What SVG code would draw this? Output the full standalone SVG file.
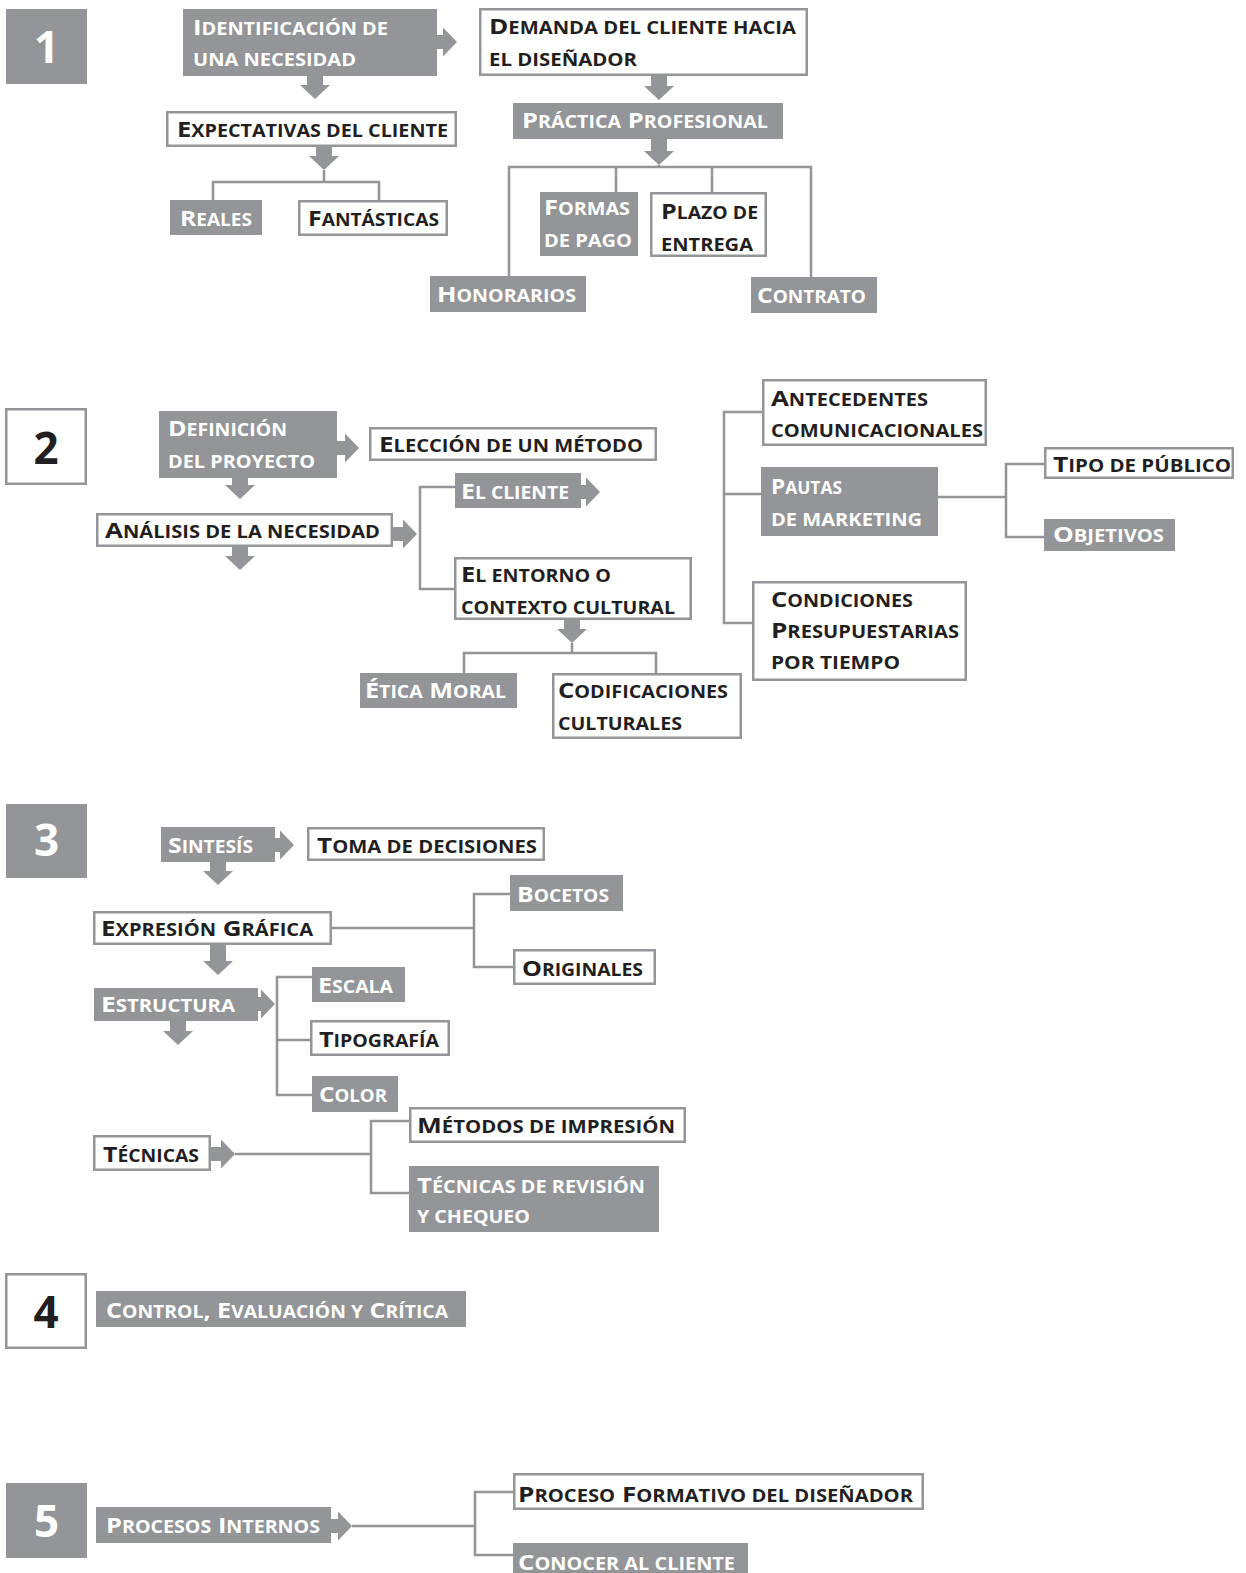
<svg xmlns="http://www.w3.org/2000/svg" width="1246" height="1573" viewBox="0 0 1246 1573">
<style>
.g{fill:#939598}
.w{fill:#fff;stroke:#939598;stroke-width:2.5}
text{font-family:"Open Sans","Liberation Sans",sans-serif;font-weight:700;font-size:22px}
.s{font-size:17px}
.tw{fill:#fff}
.tb{fill:#231f20}
.num{font-size:44px;text-anchor:middle}
.c{fill:none;stroke:#939598;stroke-width:2.5}
.a{fill:#939598}
</style>
<rect width="1246" height="1573" fill="#fff"/>
<g id="connectors">
<path class="c" d="M324,170V182M213,200V182H379V200"/>
<path class="c" d="M659,165V167M509,276V167H811V277M616,192V167M712,192V167"/>
<path class="c" d="M455,487H420V589H454"/>
<path class="c" d="M572,643V653M464,673V653H656V673"/>
<path class="c" d="M762,412H724V623H752M724,494H761"/>
<path class="c" d="M938,497H1006M1044,464H1006V537H1044"/>
<path class="c" d="M332,928H474M510,894H474V967H513"/>
<path class="c" d="M312,977H277V1095H312M277,1040H310"/>
<path class="c" d="M235,1154H371M409,1121H371V1193H409"/>
<path class="c" d="M352,1526H475M513,1492H475V1555H513"/>
<path class="a" d="M307,76V85H300L315,99L330,85H323V76Z"/>
<path class="a" d="M316,147V156H309L324,170L339,156H332V147Z"/>
<path class="a" d="M651,76V86H644L659,100L674,86H667V76Z"/>
<path class="a" d="M651,139V151H644L659,165L674,151H667V139Z"/>
<path class="a" d="M232,478V485H225L240,499L255,485H248V478Z"/>
<path class="a" d="M232,547V556H225L240,570L255,556H248V547Z"/>
<path class="a" d="M564,620V629H557L572,643L587,629H580V620Z"/>
<path class="a" d="M210,862V871H203L218,885L233,871H226V862Z"/>
<path class="a" d="M210,945V961H203L218,975L233,961H226V945Z"/>
<path class="a" d="M170,1021V1031H163L178,1045L193,1031H186V1021Z"/>
<path class="a" d="M437,35H443V27.5L457,42L443,56.5V49H437Z"/>
<path class="a" d="M337,441H345V433.5L359,448L345,462.5V455H337Z"/>
<path class="a" d="M393,527H403V519.5L417,534L403,548.5V541H393Z"/>
<path class="a" d="M581,485H586V477.5L600,492L586,506.5V499H581Z"/>
<path class="a" d="M275,838H280V830.5L294,845L280,859.5V852H275Z"/>
<path class="a" d="M258,997H261V989.5L275,1004L261,1018.5V1011H258Z"/>
<path class="a" d="M211,1147H221V1139.5L235,1154L221,1168.5V1161H211Z"/>
<path class="a" d="M331,1519H338V1511.5L352,1526L338,1540.5V1533H331Z"/>
</g>
<g id="s1"><rect class="g" x="6" y="9" width="81" height="75"/><text class="num tw" x="46.5" y="63">1</text></g>
<g id="s2"><rect class="w" x="6.25" y="409.25" width="79.5" height="74.5"/><text class="num tb" x="46" y="464">2</text></g>
<g id="s3"><rect class="g" x="6" y="804" width="81" height="74"/><text class="num tw" x="46.5" y="856">3</text></g>
<g id="s4"><rect class="w" x="6.25" y="1274.25" width="79.5" height="73.5"/><text class="num tb" x="46" y="1328">4</text></g>
<g id="s5"><rect class="g" x="6" y="1483" width="81" height="75"/><text class="num tw" x="46.5" y="1537">5</text></g>

<g id="n-ident"><rect class="g" x="183" y="9" width="254" height="67"/><text class="tw" x="193" y="35" textLength="195" lengthAdjust="spacingAndGlyphs">I<tspan class="s">DENTIFICACIÓN DE</tspan></text><text class="tw s" x="193" y="66" textLength="163" lengthAdjust="spacingAndGlyphs">UNA NECESIDAD</text></g>
<g id="n-expect"><rect class="w" x="167.25" y="112.25" width="288.5" height="33.5"/><text class="tb" x="177" y="137" textLength="271" lengthAdjust="spacingAndGlyphs">E<tspan class="s">XPECTATIVAS DEL CLIENTE</tspan></text></g>
<g id="n-reales"><rect class="g" x="170" y="200" width="92" height="35"/><text class="tw" x="180" y="226" textLength="72" lengthAdjust="spacingAndGlyphs">R<tspan class="s">EALES</tspan></text></g>
<g id="n-fant"><rect class="w" x="299.25" y="201.25" width="147.5" height="33.5"/><text class="tb" x="308" y="226" textLength="131" lengthAdjust="spacingAndGlyphs">F<tspan class="s">ANTÁSTICAS</tspan></text></g>
<g id="n-demanda"><rect class="w" x="480.25" y="9.25" width="326.5" height="65.5"/><text class="tb" x="489" y="34" textLength="307" lengthAdjust="spacingAndGlyphs">D<tspan class="s">EMANDA DEL CLIENTE HACIA</tspan></text><text class="tb s" x="489" y="66" textLength="148" lengthAdjust="spacingAndGlyphs">EL DISEÑADOR</text></g>
<g id="n-practica"><rect class="g" x="513" y="103" width="270" height="36"/><text class="tw" x="522" y="128" textLength="246" lengthAdjust="spacingAndGlyphs">P<tspan class="s">RÁCTICA</tspan> P<tspan class="s">ROFESIONAL</tspan></text></g>
<g id="n-formas"><rect class="g" x="540" y="192" width="98" height="64"/><text class="tw" x="544" y="215" textLength="86" lengthAdjust="spacingAndGlyphs">F<tspan class="s">ORMAS</tspan></text><text class="tw s" x="544" y="247" textLength="88" lengthAdjust="spacingAndGlyphs">DE PAGO</text></g>
<g id="n-plazo"><rect class="w" x="651.25" y="193.25" width="114.5" height="62.5"/><text class="tb" x="661" y="219" textLength="97" lengthAdjust="spacingAndGlyphs">P<tspan class="s">LAZO DE</tspan></text><text class="tb s" x="661" y="251" textLength="92" lengthAdjust="spacingAndGlyphs">ENTREGA</text></g>
<g id="n-honor"><rect class="g" x="430" y="276" width="156" height="36"/><text class="tw" x="437" y="302" textLength="139" lengthAdjust="spacingAndGlyphs">H<tspan class="s">ONORARIOS</tspan></text></g>
<g id="n-contrato"><rect class="g" x="751" y="277" width="126" height="36"/><text class="tw" x="757" y="303" textLength="109" lengthAdjust="spacingAndGlyphs">C<tspan class="s">ONTRATO</tspan></text></g>

<g id="n-defin"><rect class="g" x="159" y="411" width="178" height="67"/><text class="tw" x="168" y="436" textLength="119" lengthAdjust="spacingAndGlyphs">D<tspan class="s">EFINICIÓN</tspan></text><text class="tw s" x="168" y="468" textLength="147" lengthAdjust="spacingAndGlyphs">DEL PROYECTO</text></g>
<g id="n-eleccion"><rect class="w" x="370.25" y="428.25" width="285.5" height="31.5"/><text class="tb" x="379" y="452" textLength="264" lengthAdjust="spacingAndGlyphs">E<tspan class="s">LECCIÓN DE UN MÉTODO</tspan></text></g>
<g id="n-analisis"><rect class="w" x="97.25" y="514.25" width="294.5" height="31.5"/><text class="tb" x="105" y="538" textLength="275" lengthAdjust="spacingAndGlyphs">A<tspan class="s">NÁLISIS DE LA NECESIDAD</tspan></text></g>
<g id="n-cliente"><rect class="g" x="455" y="473" width="126" height="35"/><text class="tw" x="461" y="499" textLength="108" lengthAdjust="spacingAndGlyphs">E<tspan class="s">L CLIENTE</tspan></text></g>
<g id="n-entorno"><rect class="w" x="455.25" y="558.25" width="235.5" height="60.5"/><text class="tb" x="461" y="582" textLength="150" lengthAdjust="spacingAndGlyphs">E<tspan class="s">L ENTORNO O</tspan></text><text class="tb s" x="461" y="614" textLength="214" lengthAdjust="spacingAndGlyphs">CONTEXTO CULTURAL</text></g>
<g id="n-etica"><rect class="g" x="360" y="673" width="157" height="35"/><text class="tw" x="365" y="698" textLength="141" lengthAdjust="spacingAndGlyphs">É<tspan class="s">TICA</tspan> M<tspan class="s">ORAL</tspan></text></g>
<g id="n-codif"><rect class="w" x="553.25" y="674.25" width="187.5" height="63.5"/><text class="tb" x="558" y="698" textLength="170" lengthAdjust="spacingAndGlyphs">C<tspan class="s">ODIFICACIONES</tspan></text><text class="tb s" x="558" y="730" textLength="124" lengthAdjust="spacingAndGlyphs">CULTURALES</text></g>
<g id="n-antec"><rect class="w" x="763.25" y="380.25" width="222.5" height="64.5"/><text class="tb" x="771" y="406" textLength="157" lengthAdjust="spacingAndGlyphs">A<tspan class="s">NTECEDENTES</tspan></text><text class="tb s" x="771" y="437" textLength="212" lengthAdjust="spacingAndGlyphs">COMUNICACIONALES</text></g>
<g id="n-pautas"><rect class="g" x="761" y="467" width="177" height="69"/><text class="tw" x="771" y="494" textLength="71" lengthAdjust="spacingAndGlyphs">P<tspan class="s">AUTAS</tspan></text><text class="tw s" x="771" y="526" textLength="151" lengthAdjust="spacingAndGlyphs">DE MARKETING</text></g>
<g id="n-tipo"><rect class="w" x="1045.25" y="448.25" width="187.5" height="29.5"/><text class="tb" x="1053" y="472" textLength="178" lengthAdjust="spacingAndGlyphs">T<tspan class="s">IPO DE PÚBLICO</tspan></text></g>
<g id="n-obj"><rect class="g" x="1044" y="519" width="131" height="32"/><text class="tw" x="1053" y="542" textLength="111" lengthAdjust="spacingAndGlyphs">O<tspan class="s">BJETIVOS</tspan></text></g>
<g id="n-cond"><rect class="w" x="753.25" y="582.25" width="212.5" height="97.5"/><text class="tb" x="771" y="607" textLength="142" lengthAdjust="spacingAndGlyphs">C<tspan class="s">ONDICIONES</tspan></text><text class="tb" x="771" y="638" textLength="188" lengthAdjust="spacingAndGlyphs">P<tspan class="s">RESUPUESTARIAS</tspan></text><text class="tb s" x="771" y="669" textLength="129" lengthAdjust="spacingAndGlyphs">POR TIEMPO</text></g>

<g id="n-sintesis"><rect class="g" x="161" y="827" width="114" height="35"/><text class="tw" x="168" y="853" textLength="85" lengthAdjust="spacingAndGlyphs">S<tspan class="s">INTESÍS</tspan></text></g>
<g id="n-toma"><rect class="w" x="308.25" y="828.25" width="235.5" height="31.5"/><text class="tb" x="317" y="853" textLength="220" lengthAdjust="spacingAndGlyphs">T<tspan class="s">OMA DE DECISIONES</tspan></text></g>
<g id="n-expres"><rect class="w" x="94.25" y="912.25" width="236.5" height="31.5"/><text class="tb" x="101" y="936" textLength="212" lengthAdjust="spacingAndGlyphs">E<tspan class="s">XPRESIÓN</tspan> G<tspan class="s">RÁFICA</tspan></text></g>
<g id="n-bocetos"><rect class="g" x="510" y="875" width="113" height="36"/><text class="tw" x="517" y="902" textLength="92" lengthAdjust="spacingAndGlyphs">B<tspan class="s">OCETOS</tspan></text></g>
<g id="n-orig"><rect class="w" x="514.25" y="950.25" width="140.5" height="33.5"/><text class="tb" x="522" y="976" textLength="121" lengthAdjust="spacingAndGlyphs">O<tspan class="s">RIGINALES</tspan></text></g>
<g id="n-estruct"><rect class="g" x="94" y="988" width="164" height="33"/><text class="tw" x="101" y="1012" textLength="134" lengthAdjust="spacingAndGlyphs">E<tspan class="s">STRUCTURA</tspan></text></g>
<g id="n-escala"><rect class="g" x="312" y="967" width="93" height="35"/><text class="tw" x="318" y="993" textLength="75" lengthAdjust="spacingAndGlyphs">E<tspan class="s">SCALA</tspan></text></g>
<g id="n-tipog"><rect class="w" x="311.25" y="1021.25" width="137.5" height="33.5"/><text class="tb" x="319" y="1047" textLength="120" lengthAdjust="spacingAndGlyphs">T<tspan class="s">IPOGRAFÍA</tspan></text></g>
<g id="n-color"><rect class="g" x="312" y="1076" width="86" height="36"/><text class="tw" x="319" y="1102" textLength="68" lengthAdjust="spacingAndGlyphs">C<tspan class="s">OLOR</tspan></text></g>
<g id="n-tecnicas"><rect class="w" x="94.25" y="1136.25" width="115.5" height="33.5"/><text class="tb" x="103" y="1162" textLength="96" lengthAdjust="spacingAndGlyphs">T<tspan class="s">ÉCNICAS</tspan></text></g>
<g id="n-metodos"><rect class="w" x="410.25" y="1108.25" width="274.5" height="33.5"/><text class="tb" x="417" y="1133" textLength="258" lengthAdjust="spacingAndGlyphs">M<tspan class="s">ÉTODOS DE IMPRESIÓN</tspan></text></g>
<g id="n-revision"><rect class="g" x="409" y="1166" width="250" height="66"/><text class="tw" x="417" y="1193" textLength="228" lengthAdjust="spacingAndGlyphs">T<tspan class="s">ÉCNICAS DE REVISIÓN</tspan></text><text class="tw s" x="417" y="1223" textLength="113" lengthAdjust="spacingAndGlyphs">Y CHEQUEO</text></g>

<g id="n-control"><rect class="g" x="96" y="1291" width="370" height="36"/><text class="tw" x="106" y="1318" textLength="342" lengthAdjust="spacingAndGlyphs">C<tspan class="s">ONTROL</tspan>, E<tspan class="s">VALUACIÓN Y</tspan> C<tspan class="s">RÍTICA</tspan></text></g>
<g id="n-procesos"><rect class="g" x="96" y="1507" width="235" height="36"/><text class="tw" x="106" y="1533" textLength="214" lengthAdjust="spacingAndGlyphs">P<tspan class="s">ROCESOS</tspan> I<tspan class="s">NTERNOS</tspan></text></g>
<g id="n-formativo"><rect class="w" x="514.25" y="1474.25" width="408.5" height="34.5"/><text class="tb" x="518" y="1502" textLength="395" lengthAdjust="spacingAndGlyphs">P<tspan class="s">ROCESO</tspan> F<tspan class="s">ORMATIVO DEL DISEÑADOR</tspan></text></g>
<g id="n-conocer"><rect class="g" x="513" y="1543" width="235" height="34"/><text class="tw" x="518" y="1570" textLength="217" lengthAdjust="spacingAndGlyphs">C<tspan class="s">ONOCER AL CLIENTE</tspan></text></g>
</svg>
